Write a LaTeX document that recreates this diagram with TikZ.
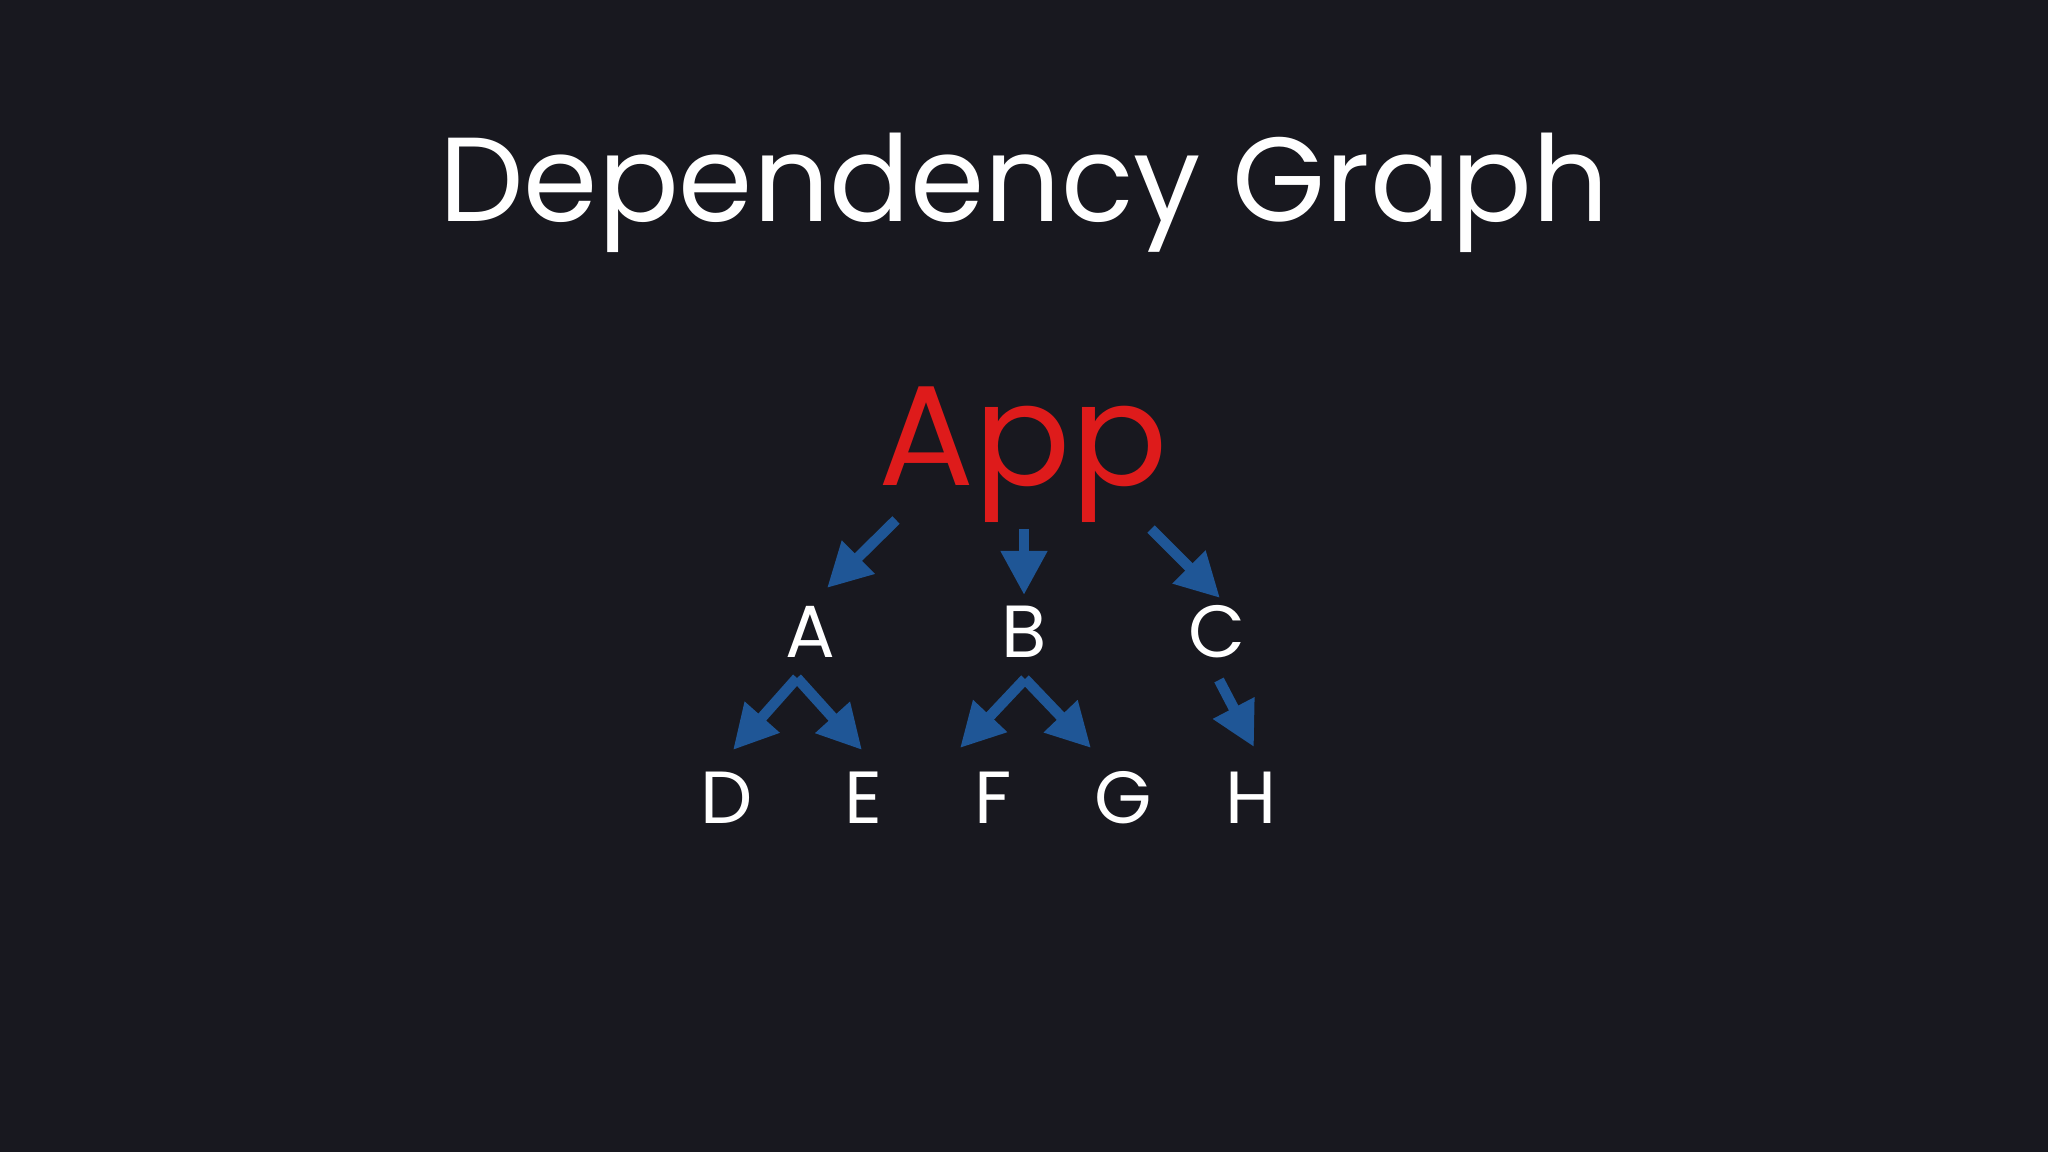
\documentclass[tikz,border=0pt]{standalone}
\usepackage{fontspec}
\setmainfont{Poppins}
\usetikzlibrary{arrows.meta,calc}

\definecolor{slidebg}{RGB}{24,24,31}
\definecolor{apptext}{RGB}{222,27,27}
\definecolor{depblue}{RGB}{31,86,150}

\tikzset{
  title/.style={anchor=base,text=white,font=\fontsize{34}{40}\selectfont},
  root/.style={anchor=base,text=apptext,font=\fontsize{40.5}{48}\selectfont},
  module/.style={anchor=base,text=white,inner sep=0pt,font=\fontsize{21}{25}\selectfont},
  dep/.style={draw=depblue,line width=3pt,-{Triangle[length=0.44cm,width=0.44cm]}}
}

\begin{document}
\begin{tikzpicture}[x=0.01cm,y=-0.01cm]
    \fill[slidebg] (0,0) rectangle (2048,1152);
    \node[title] (title) at (1024,222) {Dependency Graph};
    \node[root] (app) at (1023,486) {App};
    \node[module] (a) at (810,657) {A};
    \node[module] (b) at (1024,657) {B};
    \node[module] (c) at (1217,657) {C};
    \node[module] (d) at (727,823) {D};
    \node[module] (e) at (863,823) {E};
    \node[module] (f) at (993,823) {F};
    \node[module] (g) at (1123,823) {G};
    \node[module] (h) at (1251,823) {H};
    \draw[dep] ($(app.base)+(-127,34)$) -- ($(a.base)+(17,-69)$);
    \draw[dep] ($(app.base)+(1,43)$) -- ($(b.base)+(0,-62)$);
    \draw[dep] ($(app.base)+(128,43)$) -- ($(c.base)+(3,-59)$);
    \draw[dep] ($(a.base)+(-13,21)$) -- ($(d.base)+(6,-73)$);
    \draw[dep] ($(a.base)+(-13,21)$) -- ($(e.base)+(-1,-73)$);
    \draw[dep] ($(b.base)+(1,22)$) -- ($(f.base)+(-33,-75)$);
    \draw[dep] ($(b.base)+(1,22)$) -- ($(g.base)+(-32,-75)$);
    \draw[dep] ($(c.base)+(2,23)$) -- ($(h.base)+(3,-76)$);
\end{tikzpicture}
\end{document}
